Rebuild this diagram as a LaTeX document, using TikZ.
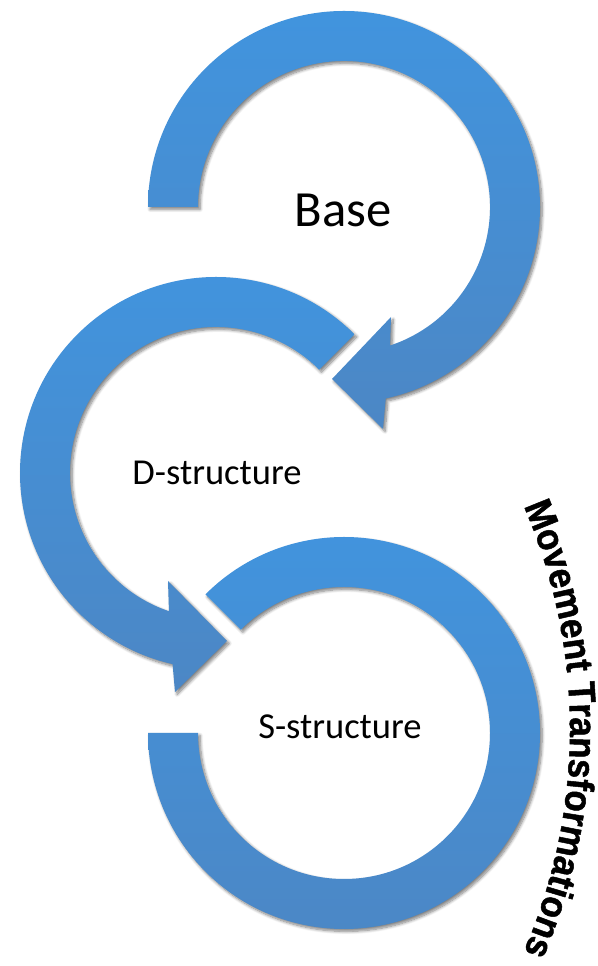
\documentclass[tikz,border=0pt]{standalone}
\usepackage{fontspec}
\setmainfont{Carlito}
\newfontfamily\wafont{Liberation Sans}[BoldFeatures={FakeBold=1.3,FakeStretch=0.92}]
\usetikzlibrary{shadows.blur,decorations.text,calc}
\definecolor{ringtop}{RGB}{65,148,222}
\definecolor{ringbot}{RGB}{76,135,197}
\newcommand{\mtfont}{\wafont\bfseries\fontsize{28.5}{32}\selectfont}
\tikzset{
  ring/.style={top color=ringtop, bottom color=ringbot, draw=none,
    blur shadow={shadow xshift=1.6pt, shadow yshift=-1.8pt, shadow blur radius=2.2pt, shadow blur steps=8, shadow opacity=50}},
  lbl/.style={inner sep=0pt, text=black},
  bigl/.style={lbl, font=\fontsize{38}{44}\selectfont},
  midl/.style={lbl, font=\fontsize{27.4}{32}\selectfont}
}
\begin{document}
\begin{tikzpicture}[x=0.75pt,y=0.75pt]
\useasboundingbox (0,0) rectangle (598,966);
\coordinate (c1) at (344,759);
\coordinate (c2) at (216,493);
\coordinate (c3) at (344,233);
\coordinate (tc) at (10,237);
% arrow 1 (Base)
\path[ring] ($(c1)+(180:196)$) arc[start angle=180,end angle=-77.7,radius=196]
  -- (383,537) -- (332,587) -- (391,649)
  -- ($(c1)+(-71.6:146)$) arc[start angle=-71.6,end angle=180,radius=146] -- cycle;
% arrow 2 (D-structure)
\path[ring] ($(c2)+(45:196)$) arc[start angle=45,end angle=257.2,radius=196]
  -- (175,274) -- (227,325) -- (168,385)
  -- ($(c2)+(251.2:146)$) arc[start angle=251.2,end angle=45,radius=146] -- cycle;
% ring 3 (S-structure)
\path[ring] ($(c3)+(135:196)$) arc[start angle=135,end angle=-180,radius=196]
  -- ($(c3)+(180:146)$) arc[start angle=-180,end angle=135,radius=146] -- cycle;
% labels
\node[bigl] (base) at (343,756) {Base};
\node[midl] (dstr) at (217,493) {D-structure};
\node[midl] (sstr) at (340,239) {S-structure};
% curved text
\path[decorate, decoration={text along path, text align=center,
  text={|\mtfont|Movement Transformations}}]
  ($(tc)+(24.3:560)$) arc[start angle=24.3,end angle=-24.3,radius=560];
\end{tikzpicture}
\end{document}
